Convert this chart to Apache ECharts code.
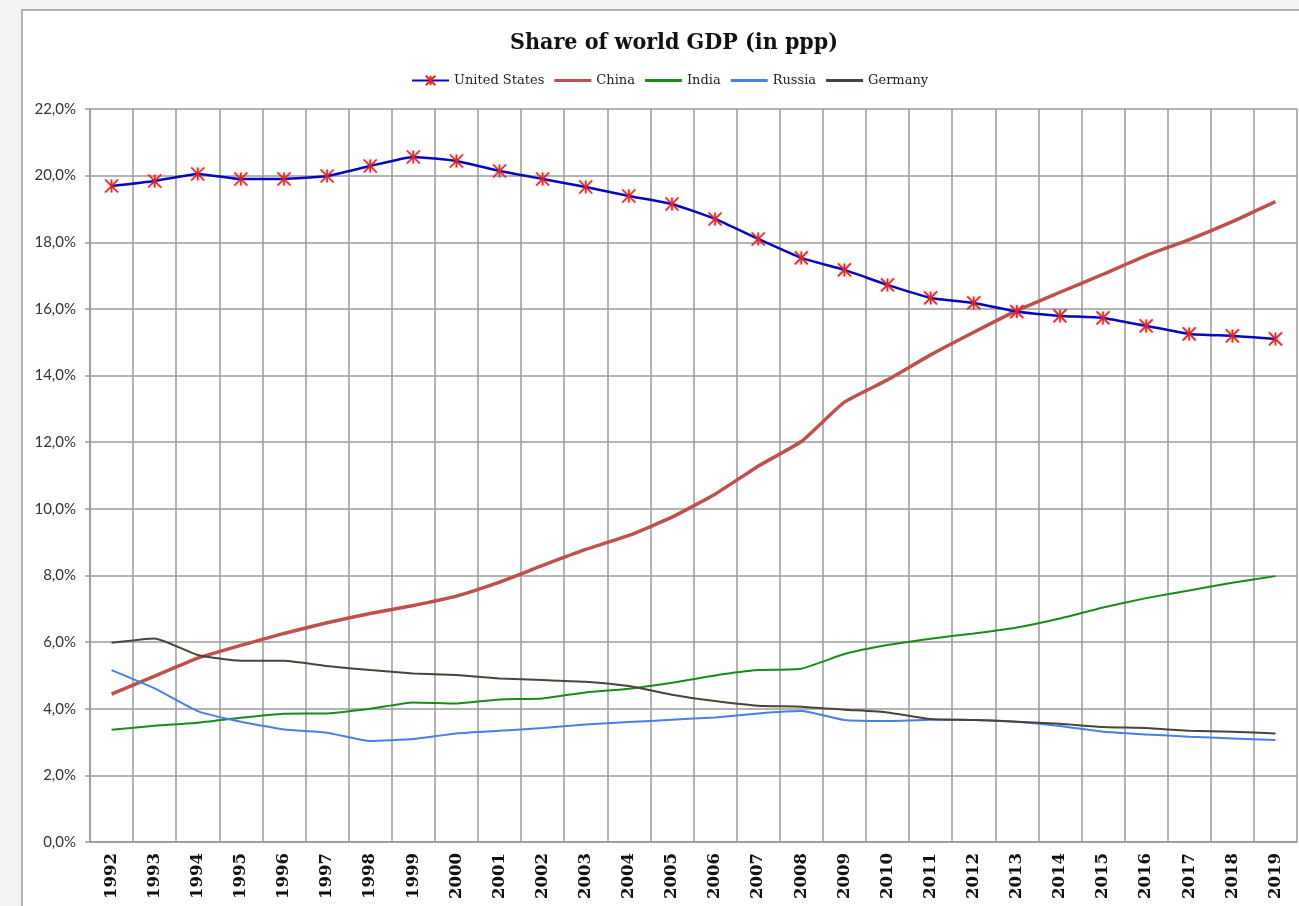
<!DOCTYPE html>
<html>
<head>
<meta charset="utf-8">
<title>Share of world GDP (in ppp)</title>
<script src="https://cdn.jsdelivr.net/npm/echarts@6/dist/echarts.min.js"></script>
<style>
  html, body { margin: 0; padding: 0; background: #f3f3f3; }
  #chart { width: 1299px; height: 906px; }
</style>
</head>
<body>
<div id="chart"></div>
<script>
// years on the x axis
var years = ['1992','1993','1994','1995','1996','1997','1998','1999','2000','2001',
  '2002','2003','2004','2005','2006','2007','2008','2009','2010','2011',
  '2012','2013','2014','2015','2016','2017','2018','2019'];

// share of world GDP, in %
var usa = [19.69, 19.84, 20.05, 19.90, 19.90, 19.99, 20.29, 20.56, 20.44, 20.14,
  19.90, 19.66, 19.39, 19.15, 18.70, 18.10, 17.53, 17.17, 16.72, 16.33,
  16.18, 15.92, 15.79, 15.73, 15.49, 15.25, 15.19, 15.10];
var china = [4.44, 4.98, 5.52, 5.90, 6.26, 6.58, 6.86, 7.10, 7.38, 7.80,
  8.30, 8.78, 9.20, 9.75, 10.44, 11.28, 12.02, 13.20, 13.87, 14.62,
  15.30, 15.95, 16.50, 17.04, 17.60, 18.08, 18.62, 19.22];
var india = [3.37, 3.49, 3.58, 3.73, 3.85, 3.86, 4.00, 4.19, 4.16, 4.28,
  4.31, 4.49, 4.60, 4.78, 5.00, 5.16, 5.20, 5.64, 5.91, 6.10,
  6.26, 6.44, 6.71, 7.04, 7.32, 7.55, 7.78, 7.98];
var russia = [5.16, 4.61, 3.93, 3.61, 3.38, 3.28, 3.03, 3.09, 3.26, 3.34,
  3.42, 3.53, 3.60, 3.67, 3.74, 3.86, 3.93, 3.66, 3.63, 3.67,
  3.66, 3.61, 3.48, 3.31, 3.23, 3.16, 3.11, 3.06];
var germany = [5.98, 6.11, 5.61, 5.44, 5.44, 5.28, 5.16, 5.06, 5.01, 4.91,
  4.86, 4.81, 4.68, 4.42, 4.23, 4.09, 4.06, 3.97, 3.89, 3.69,
  3.66, 3.61, 3.55, 3.45, 3.42, 3.34, 3.31, 3.26];

var star = 'path://M0,0 L10,10 M10,0 L0,10 M5,0 L5,10';
var bar = 'path://M0,0 L36,0 L36,3 L0,3 Z';

var chart = echarts.init(document.getElementById('chart'));

function plain(name, data, color, width) {
  return {
    name: name,
    type: 'line',
    data: data,
    symbol: 'none',
    smooth: 0.15,
    lineStyle: { color: color, width: width },
    itemStyle: { color: color }
  };
}

chart.setOption({
  animation: false,
  backgroundColor: '#f3f3f3',
  graphic: [{
    type: 'rect',
    z: -10,
    shape: { x: 22, y: 10, width: 1300, height: 920 },
    style: { fill: '#ffffff', stroke: '#9a9a9a', lineWidth: 1.5 }
  }],
  title: {
    text: 'Share of world GDP (in ppp)',
    left: 505,
    top: 27,
    textStyle: {
      fontFamily: "'DejaVu Serif Condensed', 'DejaVu Serif'",
      fontWeight: 'bold',
      fontSize: 23,
      color: '#111'
    }
  },
  legend: {
    top: 69,
    left: 406,
    itemWidth: 37,
    itemHeight: 12,
    itemGap: 10,
    textStyle: { fontFamily: 'DejaVu Serif', fontSize: 13, color: '#222' },
    data: [
      { name: 'United States' },
      { name: 'China', icon: bar },
      { name: 'India', icon: bar },
      { name: 'Russia', icon: bar },
      { name: 'Germany', icon: bar }
    ]
  },
  grid: { left: 90, right: 2, top: 109, bottom: 64 },
  xAxis: {
    type: 'category',
    data: years,
    boundaryGap: true,
    axisLine: { lineStyle: { color: '#999', width: 1.5 } },
    axisTick: { length: 6, lineStyle: { color: '#999', width: 1.5 } },
    splitLine: { show: true, lineStyle: { color: '#9a9a9a', width: 1.5 } },
    axisLabel: {
      rotate: 90,
      margin: 11,
      fontFamily: 'DejaVu Serif',
      fontWeight: 'bold',
      fontSize: 16.5,
      color: '#111'
    }
  },
  yAxis: {
    type: 'value',
    min: 0,
    max: 22,
    interval: 2,
    axisLine: { show: true, lineStyle: { color: '#999', width: 1.5 } },
    axisTick: { show: true, length: 5, lineStyle: { color: '#999', width: 1.5 } },
    splitLine: { lineStyle: { color: '#9a9a9a', width: 1.5 } },
    axisLabel: {
      margin: 14,
      fontFamily: 'Lato',
      fontSize: 15,
      color: '#333',
      formatter: function (v) { return v.toFixed(1).replace('.', ',') + '%'; }
    }
  },
  series: [
    {
      name: 'United States',
      type: 'line',
      data: usa,
      z: 5,
      smooth: 0.15,
      symbol: star,
      symbolSize: 13,
      lineStyle: { color: '#0606c0', width: 2.5 },
      itemStyle: {
        color: 'rgba(255,230,230,0.6)',
        borderColor: '#e8231f',
        borderWidth: 1.6,
        shadowColor: 'rgba(150,90,90,0.55)',
        shadowBlur: 3
      }
    },
    plain('China', china, '#c0504d', 3.5),
    plain('India', india, '#1a8a1a', 2),
    plain('Russia', russia, '#4a7ee6', 2),
    plain('Germany', germany, '#4b4436', 2)
  ]
});
</script>
</body>
</html>
